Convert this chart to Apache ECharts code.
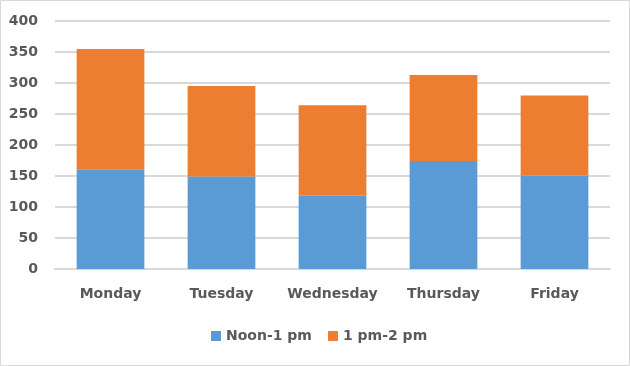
<!DOCTYPE html>
<html>
<head>
<meta charset="utf-8">
<script src="https://cdn.jsdelivr.net/npm/echarts@6/dist/echarts.min.js"></script>
<style>
html,body{margin:0;padding:0;background:#fff;}
#chart{width:630px;height:366px;}
</style>
</head>
<body>
<div id="chart"></div>
<script>
const categories = ['Monday', 'Tuesday', 'Wednesday', 'Thursday', 'Friday'];
const seriesNames = ['Noon-1 pm', '1 pm-2 pm'];
const noonValues = [161, 149, 118, 174, 151];
const onePmValues = [194, 146, 146, 139, 129];

const chart = echarts.init(document.getElementById('chart'));
const font = 'DejaVu Sans';
chart.setOption({
  animation: false,
  backgroundColor: '#ffffff',
  graphic: [{
    type: 'rect',
    shape: { x: 0.5, y: 0.5, width: 629, height: 365 },
    style: { fill: 'none', stroke: '#d9d9d9', lineWidth: 1 },
    silent: true
  }],
  grid: { left: 55, right: 20, top: 21, bottom: 97 },
  legend: {
    data: seriesNames,
    left: 211,
    top: 329,
    padding: 0,
    itemWidth: 10,
    itemHeight: 10,
    itemGap: 16,
    icon: 'rect',
    textStyle: { color: '#595959', fontFamily: font, fontWeight: 'bold', fontSize: 14 }
  },
  xAxis: {
    type: 'category',
    data: categories,
    axisLine: { show: true, lineStyle: { color: '#d9d9d9', width: 2 } },
    axisTick: { show: false },
    axisLabel: { interval: 0, color: '#595959', fontFamily: font, fontWeight: 'bold', fontSize: 14, margin: 18 }
  },
  yAxis: {
    type: 'value',
    min: 0,
    max: 400,
    interval: 50,
    axisLine: { show: false },
    axisTick: { show: false },
    splitLine: { lineStyle: { color: '#d9d9d9', width: 2 } },
    axisLabel: { color: '#595959', fontFamily: font, fontWeight: 'bold', fontSize: 14, margin: 17 }
  },
  series: [
    {
      name: seriesNames[0],
      type: 'bar',
      stack: 'total',
      data: noonValues,
      barWidth: '61%',
      itemStyle: { color: '#5B9BD5' }
    },
    {
      name: seriesNames[1],
      type: 'bar',
      stack: 'total',
      data: onePmValues,
      barWidth: '61%',
      itemStyle: { color: '#ED7D31' }
    }
  ]
});
</script>
</body>
</html>
